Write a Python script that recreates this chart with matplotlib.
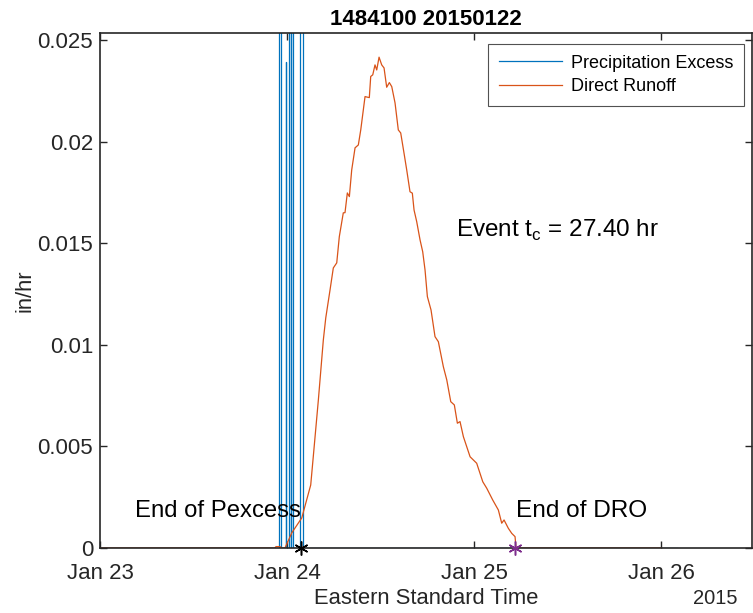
import datetime as dt

import matplotlib
matplotlib.use("Agg")
import matplotlib.dates as mdates
import matplotlib.pyplot as plt
import numpy as np
from matplotlib.ticker import FuncFormatter

plt.rcParams["font.family"] = ["Liberation Sans", "DejaVu Sans"]
plt.rcParams["mathtext.fontset"] = "custom"
plt.rcParams["mathtext.rm"] = "Liberation Sans"

START = dt.datetime(2015, 1, 23)

# precipitation excess (in/hr), step series: value holds from each time (hours after Jan 23 00:00)
pe_hours = [0, 22.92, 23.19, 23.85, 23.89, 24.26, 24.52, 24.55, 24.77, 25.71, 26.01, 74.1]
pe_vals = [0, 0.060, 0, 0.0239, 0, 0.110, 0, 0.085, 0, 0.070, 0, 0]

# direct runoff (in/hr)
ro_hours = [0, 22.42, 22.59, 23.10, 23.36, 23.74, 24.60, 25.89, 27.04, 27.37, 28.02,
            28.66, 28.97, 29.52, 29.94, 30.38, 30.71, 31.22, 31.44, 31.74, 32.00,
            32.30, 32.73, 33.15, 33.46, 34.01, 34.56, 34.74, 35.00, 35.29, 35.51,
            35.81, 36.15, 36.45, 36.79, 37.13, 37.44, 37.86, 38.28, 38.59, 39.05,
            39.36, 39.78, 40.08, 40.30, 40.64, 41.07, 41.41, 41.71, 42.01, 42.48,
            42.99, 43.42, 44.06, 44.50, 45.01, 45.47, 45.86, 46.20, 46.63, 47.49,
            48.34, 49.12, 49.63, 50.40, 51.12, 51.55, 51.85, 52.40, 52.84, 53.26,
            53.39, 72.0]
ro_vals = [0, 0, 0.00007, 0.00007, 0, 0, 0.00074, 0.00148, 0.0031, 0.0045, 0.00728,
           0.01024, 0.01132, 0.0127, 0.01378, 0.01403, 0.01532, 0.01649, 0.0165, 0.01747, 0.01729,
           0.0186, 0.01969, 0.01983, 0.02057, 0.02221, 0.02216, 0.0232, 0.02328, 0.02377, 0.02352,
           0.02415, 0.02377, 0.02362, 0.02267, 0.0229, 0.0227, 0.0219, 0.02057, 0.02042, 0.01934,
           0.0186, 0.01753, 0.01746, 0.01663, 0.01606, 0.01516, 0.01458, 0.01368, 0.01237, 0.01171,
           0.0104, 0.01015, 0.00892, 0.00827, 0.0072, 0.00704, 0.00614, 0.00622, 0.00548, 0.00449,
           0.00417, 0.00326, 0.00294, 0.00236, 0.00187, 0.00122, 0.00138, 0.00097, 0.00072, 0.00056,
           0, 0]

END_PEXCESS_H = 25.8
END_DRO_H = 53.26
TC_HR = 27.40

BLUE = "#0072BD"
ORANGE = "#D95319"
PURPLE = "#7E2F8E"
AX_COLOR = "#262626"
TICK_FS = 16


def to_dates(hours):
    return [START + dt.timedelta(hours=h) for h in hours]


fig = plt.figure(figsize=(7.53, 6.13), dpi=100)
ax = fig.add_axes([0.1328, 0.106, 0.866, 0.8402])

ax.step(to_dates(pe_hours), pe_vals, where="post", color=BLUE, lw=0.9, label="Precipitation Excess")
ax.plot(to_dates(ro_hours), ro_vals, color=ORANGE, lw=0.9, label="Direct Runoff")

# asterisk markers for the end points
ax.plot(to_dates([END_PEXCESS_H]), [0], marker=(6, 2, 0), color="black", ms=10, mew=1.1,
        linestyle="none", clip_on=False, zorder=5)
ax.plot(to_dates([END_DRO_H]), [0], marker=(6, 2, 0), color=PURPLE, ms=10, mew=1.1,
        linestyle="none", clip_on=False, zorder=5)

ax.text(to_dates([END_PEXCESS_H])[0], 0.00182, "End of Pexcess", ha="right", va="center",
        fontsize=17.2, color="black")
ax.text(to_dates([END_DRO_H + 0.1])[0], 0.00182, "End of DRO", ha="left", va="center",
        fontsize=17.6, color="black")
ax.text(to_dates([45.7])[0], 0.01565, f"Event t$_\\mathrm{{c}}$ = {TC_HR:.2f} hr", ha="left",
        va="center", fontsize=17.5, color="black")

ax.set_xlim(START, START + dt.timedelta(hours=83.68))
ax.set_ylim(0, 0.02534)
ax.set_xticks(to_dates([0, 24, 48, 72]))
ax.xaxis.set_major_formatter(mdates.DateFormatter("%b %d"))
ax.set_yticks([0, 0.005, 0.01, 0.015, 0.02, 0.025])
ax.yaxis.set_major_formatter(FuncFormatter(lambda v, p: f"{v:g}"))

ax.tick_params(direction="in", top=True, right=True, length=5, width=1, colors=AX_COLOR,
               labelsize=TICK_FS, labelcolor=AX_COLOR)
ax.tick_params(axis="x", pad=11)
ax.tick_params(axis="y", pad=5)
for s in ax.spines.values():
    s.set_color(AX_COLOR)
    s.set_linewidth(1.2)

ax.set_xlabel("Eastern Standard Time", fontsize=15.8, color=AX_COLOR, labelpad=3)
ax.set_ylabel("in/hr", fontsize=15.8, color=AX_COLOR, labelpad=1)
ax.set_title("1484100 20150122", fontsize=16, fontweight="bold", color="black", pad=6)
fig.text(715 / 753, 1 - 598 / 613, "2015", ha="center", va="center", fontsize=14.5, color=AX_COLOR)

leg = ax.legend(loc="upper right", bbox_to_anchor=(0.988, 0.979), fontsize=13, frameon=True,
                fancybox=False, edgecolor=AX_COLOR, borderpad=0.6, handlelength=3.5,
                handletextpad=0.5, labelspacing=0.35, borderaxespad=0)
leg.get_frame().set_linewidth(0.8)

fig.savefig("out.png", dpi=100)
